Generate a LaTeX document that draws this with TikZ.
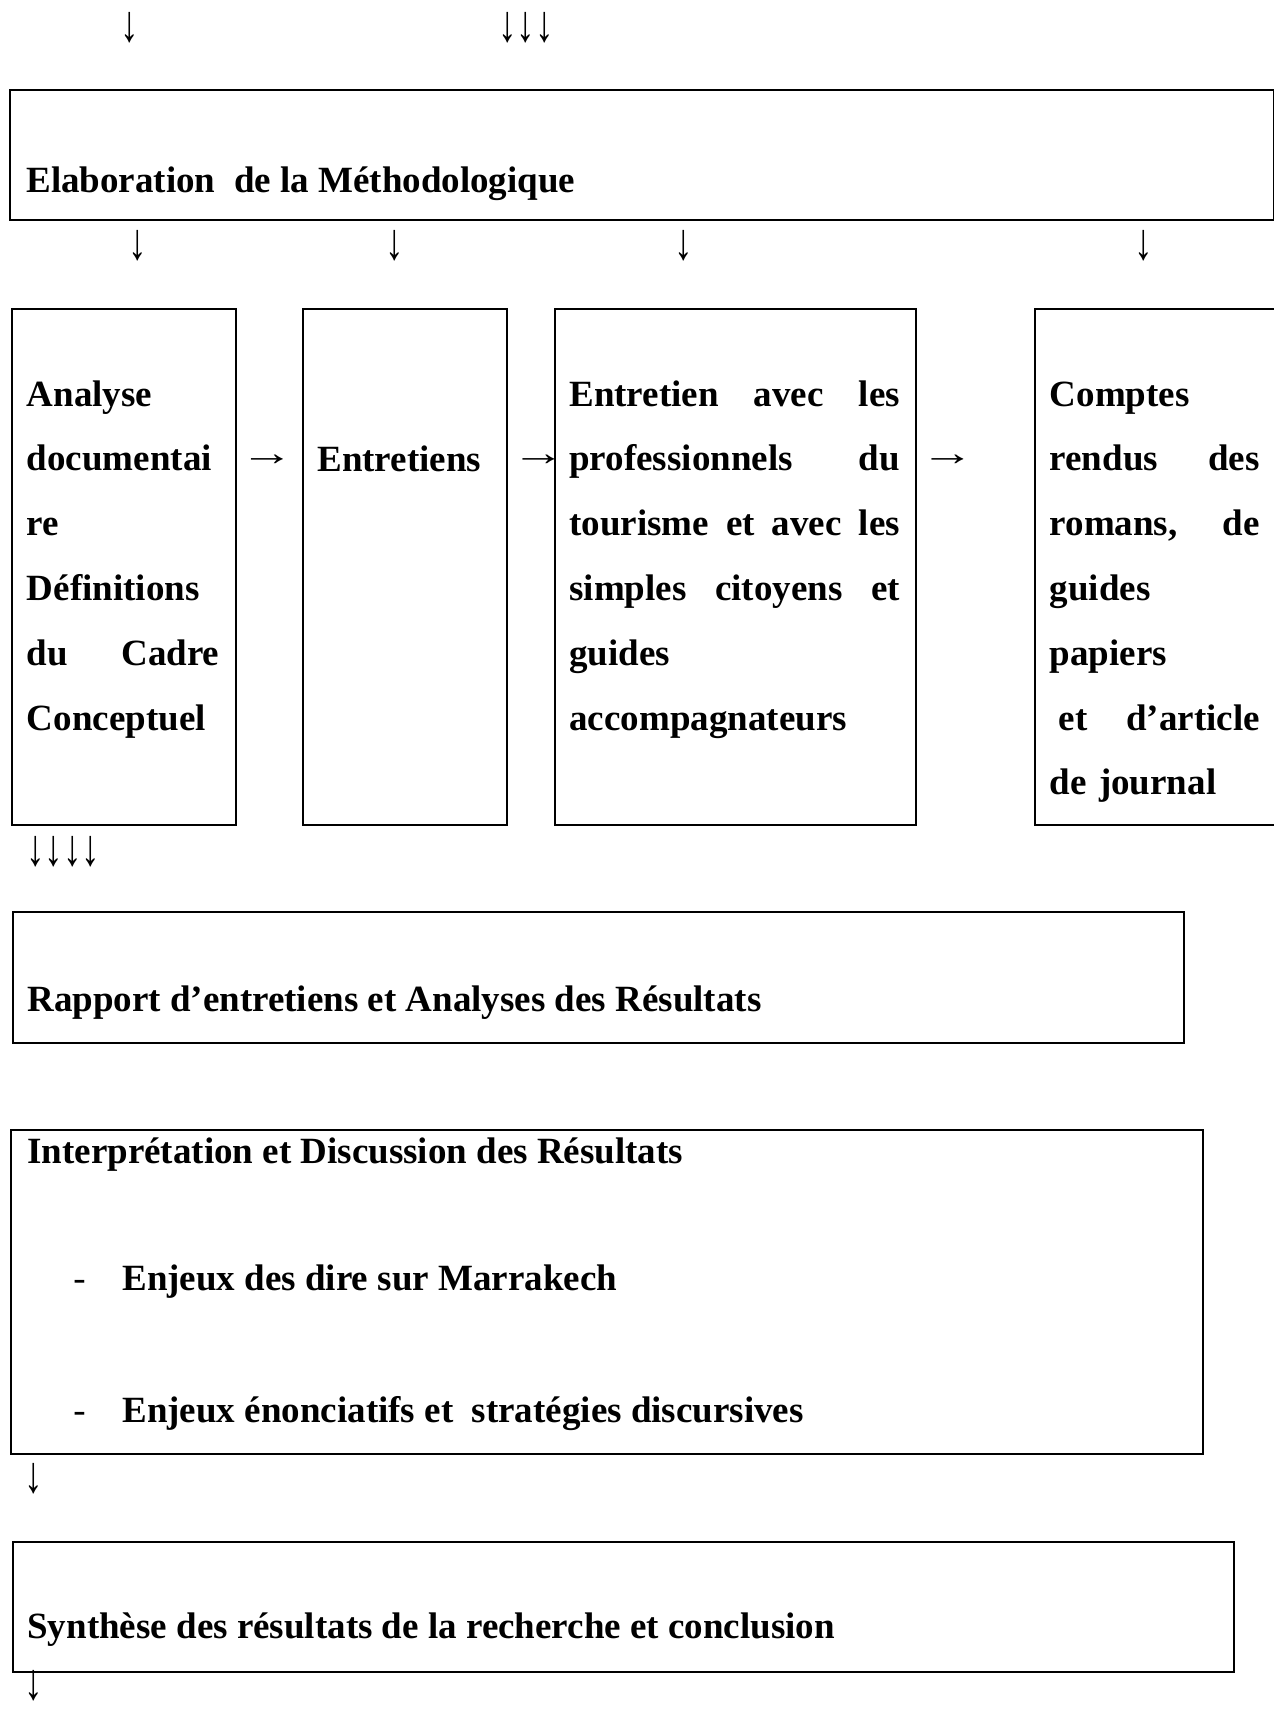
\documentclass[tikz,border=0pt]{standalone}
\usepackage{fontspec}
\usepackage{graphicx}
\setmainfont{Liberation Serif}
\newcommand\jline[1]{{\spaceskip=0.25em plus 1fil\relax\makebox[\linewidth][s]{#1}}}
\newcommand\dnarrow{\scalebox{1}[1.4]{↓}}
\newcommand\rtarrow{\scalebox{1.45}[1]{→}}
\begin{document}
\begin{tikzpicture}[x=0.5pt,y=-0.5pt,
  box/.style={draw,line width=1pt,anchor=north west,inner sep=0pt},
  txt/.style={anchor=base west,inner sep=0pt,font=\fontsize{18.5}{32.4}\selectfont\bfseries},
  para/.style={txt,align=left,text width=#1},
  glyph/.style={inner sep=0pt,font=\fontsize{18.5}{22}\selectfont},
  dashmark/.style={anchor=base west,inner sep=0pt,font=\fontsize{18.5}{22}\selectfont}]
\useasboundingbox (0,0) rectangle (1274,1710);
\clip (0,0) rectangle (1274,1710);
% boxes
\node[box,minimum width=632pt,minimum height=65pt] (M) at (9,89) {};
\node[box,minimum width=112pt,minimum height=258pt] (A) at (11,308) {};
\node[box,minimum width=102pt,minimum height=258pt] (B) at (302,308) {};
\node[box,minimum width=180.25pt,minimum height=258pt] (C) at (554,308) {};
\node[box,minimum width=133pt,minimum height=258pt] (D) at (1034,308) {};
\node[box,minimum width=585.5pt,minimum height=65.5pt] (E) at (12,911) {};
\node[box,minimum width=596pt,minimum height=162pt] (F) at (10,1129) {};
\node[box,minimum width=610.5pt,minimum height=65pt] (G) at (12,1541) {};
% texts
\node[txt] (tM) at (26,192) {Elaboration\ \ de la Méthodologique};
\node[para=96.25pt] (tA) at (26.5,406) {Analyse\\documentai\\re\\Définitions\\\jline{du Cadre}\\Conceptuel};
\node[txt] (tB) at (317,471) {Entretiens};
\node[para=165.25pt] (tC) at (569,406) {\jline{Entretien avec les}\\\jline{professionnels du}\\\jline{tourisme et avec les}\\\jline{simples citoyens et}\\guides\\accompagnateurs};
\node[para=105pt] (tD) at (1049.4,406) {Comptes\\\jline{rendus des}\\\jline{romans, de}\\guides\\papiers\\\jline{\hspace*{4.5pt}et d’article}\\de journal};
\node[txt] (tE) at (27,1011) {Rapport d’entretiens et Analyses des Résultats};
\node[txt] (tF1) at (27,1163) {Interprétation et Discussion des Résultats};
\node[dashmark] (d1) at (73,1290) {-};
\node[txt] (tF2) at (122,1290) {Enjeux des dire sur Marrakech};
\node[dashmark] (d2) at (73,1422) {-};
\node[txt] (tF3) at (122,1422) {Enjeux énonciatifs et\ \ stratégies discursives};
\node[txt] (tG) at (27,1638) {Synthèse des résultats de la recherche et conclusion};
% arrow glyphs
\node[glyph] (g0) at (130,28) {\dnarrow};
\node[glyph] (g1) at (526,28) {\dnarrow\dnarrow\dnarrow};
\node[glyph] (g2) at (137.6,246) {\dnarrow};
\node[glyph] (g3) at (395,246) {\dnarrow};
\node[glyph] (g4) at (683.7,246) {\dnarrow};
\node[glyph] (g5) at (1144,246) {\dnarrow};
\node[glyph] (h1) at (267,460) {\rtarrow};
\node[glyph] (h2) at (538.5,460) {\rtarrow};
\node[glyph] (h3) at (947.5,460) {\rtarrow};
\node[glyph] (g6) at (63,852) {\dnarrow\dnarrow\dnarrow\dnarrow};
\node[glyph] (g7) at (34,1479) {\dnarrow};
\node[glyph] (g8) at (34,1686) {\dnarrow};
\end{tikzpicture}
\end{document}
